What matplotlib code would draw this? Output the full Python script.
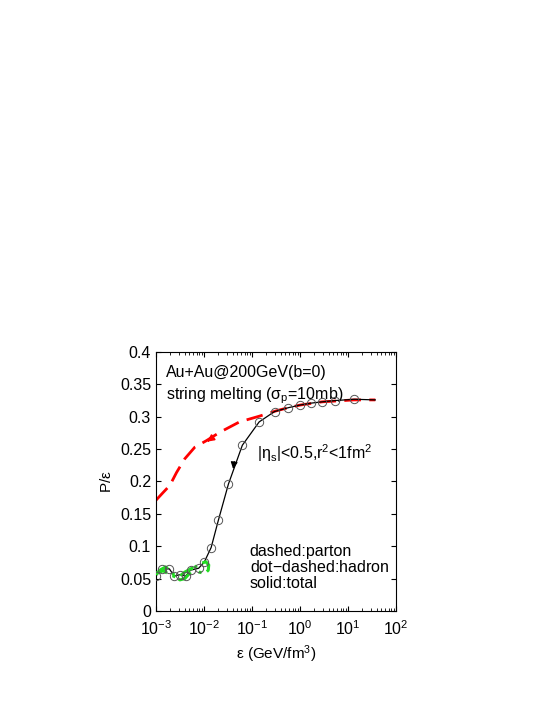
import matplotlib
matplotlib.use('Agg')
import matplotlib.pyplot as plt
import numpy as np

plt.rcParams.update({'font.size': 11, 'font.family': 'Liberation Sans', 'mathtext.fontset': 'custom',
                     'mathtext.rm': 'Liberation Sans', 'mathtext.it': 'Liberation Sans',
                     'mathtext.default': 'rm'})

# total (solid with circles), log10(eps), P/eps
total_logx = [-3, -2.88, -2.72, -2.62, -2.5, -2.38, -2.28, -2.11, -1.99, -1.85, -1.70, -1.49,
              -1.2, -0.85, -0.53, -0.24, 0.0, 0.23, 0.46, 0.74, 1.13, 1.57]
total_y = [0.054, 0.065, 0.065, 0.054, 0.056, 0.054, 0.063, 0.066, 0.076, 0.098, 0.14, 0.196,
           0.256, 0.292, 0.308, 0.314, 0.318, 0.321, 0.323, 0.325, 0.327, 0.326]
circle_count = 21

# parton (red dashed)
parton_logx = [-3, -2.85, -2.71, -2.57, -2.4, -2.19, -1.95, -1.67, -1.26, -0.84, -0.5, -0.24,
               0.0, 0.46, 1.13, 1.57]
parton_y = [0.171, 0.183, 0.194, 0.214, 0.235, 0.253, 0.263, 0.276, 0.292, 0.301, 0.309, 0.314,
            0.318, 0.323, 0.326, 0.326]

# hadron (green dot-dashed), loops back at low density
hadron_logx = [-3, -2.92, -2.8, -2.68, -2.6, -2.5, -2.4, -2.3, -2.2, -2.08, -1.96, -1.9, -1.91,
               -1.98, -2.1, -2.25, -2.4, -2.55, -2.7, -2.85, -3]
hadron_y = [0.056, 0.063, 0.068, 0.062, 0.053, 0.048, 0.050, 0.058, 0.067, 0.073, 0.076, 0.071,
            0.063, 0.058, 0.060, 0.066, 0.060, 0.051, 0.056, 0.062, 0.058]

fig = plt.figure(figsize=(5.53, 7.15), dpi=100)
ax = fig.add_axes([0.282, 0.1455, 0.434, 0.3622])

tx = 10 ** np.array(total_logx)
ax.plot(10 ** np.array(parton_logx), parton_y, color='red', ls=(0, (6, 3)), lw=2)
ax.plot(tx, total_y, color='black', lw=0.9, zorder=2)
ax.plot(10 ** np.array(hadron_logx), hadron_y, color='#22dd22', ls=(0, (5, 2, 1, 2)), lw=2.2, zorder=3)
ax.plot(tx[:circle_count], total_y[:circle_count], 'o', mfc='none', mec='#555555', ms=6, mew=0.7, zorder=4)

ax.annotate('', xy=(10 ** -1.98, 0.259), xytext=(10 ** -1.85, 0.266),
            arrowprops=dict(arrowstyle='-|>', color='red', lw=1.2, mutation_scale=10))
ax.annotate('', xy=(10 ** -1.4, 0.215), xytext=(10 ** -1.36, 0.235),
            arrowprops=dict(arrowstyle='-|>', color='black', lw=0.9, mutation_scale=10))

ax.set_xscale('log')
ax.set_xlim(1e-3, 1e2)
ax.set_ylim(0, 0.4)
ax.set_yticks(np.arange(0, 0.41, 0.05))
ax.set_yticklabels(['0', '0.05', '0.1', '0.15', '0.2', '0.25', '0.3', '0.35', '0.4'])
ax.tick_params(which='both', direction='in', top=True, right=True, labelsize=11.5)
ax.tick_params(axis='x', which='major', pad=6)
ax.set_xlabel(r'$\epsilon$ (GeV/fm$^3$)')
ax.set_ylabel(r'P/$\epsilon$')

ax.text(0.04, 0.95, 'Au+Au@200GeV(b=0)', transform=ax.transAxes, fontsize=11.5, va='top')
ax.text(0.04, 0.87, r'string melting ($\sigma_p$=10mb)', transform=ax.transAxes, fontsize=11.5, va='top')
ax.text(0.42, 0.65, r'|$\eta_s$|<0.5,r$^2$<1fm$^2$', transform=ax.transAxes, fontsize=11.5, va='top')
ax.text(0.39, 0.26, 'dashed:parton\ndot$-$dashed:hadron\nsolid:total', transform=ax.transAxes,
        fontsize=11.5, va='top', linespacing=1.05)

plt.savefig('out.png', dpi=100)
